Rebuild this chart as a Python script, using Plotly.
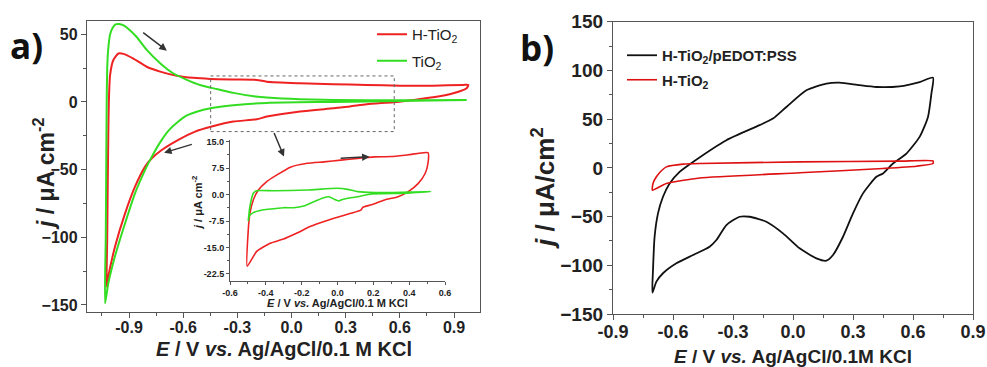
import plotly.graph_objects as go

# ---------------- Panel a (main) ----------------
a_red_E = [-1.024, -1.021, -1.018, -1.015, -1.012, -1.005, -0.987, -0.959, -0.931, -0.876,
           -0.802, -0.728, -0.636, -0.544, -0.451, -0.322, -0.193, -0.137, 0.047, 0.231,
           0.416, 0.601, 0.785, 0.951, 0.979, 0.97, 0.896, 0.785, 0.675, 0.564, 0.416,
           0.324, 0.231, 0.047, -0.137, -0.193, -0.322, -0.442, -0.534, -0.627, -0.719,
           -0.774, -0.811, -0.867, -0.922, -0.978, -1.015, -1.024]
a_red_j = [-136.5, -100, -60, -25, 0, 20, 31, 35.8, 35.5, 32,
           26, 22.4, 19.4, 17.8, 17.0, 16.6, 16.3, 15.0, 13.8, 13.0,
           12.6, 12.0, 12.0, 12.6, 12.6, 10.1, 6.4, 3.4, 1.5, -0.2, -1.7,
           -3.4, -4.7, -7.1, -10.8, -12.8, -14.5, -18.2, -21.9, -28, -35.5,
           -41.6, -47.8, -62.6, -82.3, -107, -129, -136.5]

a_grn_E = [-1.033, -1.029, -1.026, -1.024, -1.021, -1.016, -1.005, -0.99, -0.975, -0.955,
           -0.93, -0.9, -0.858, -0.802, -0.728, -0.654, -0.58, -0.507, -0.414, -0.322,
           -0.2, -0.137, 0.047, 0.416, 0.97, 0.97, 0.6, 0.231, -0.137, -0.322, -0.414,
           -0.507, -0.58, -0.627, -0.68, -0.719, -0.774, -0.811, -0.867, -0.922, -0.978,
           -1.015, -1.033]
a_grn_j = [-148.8, -100, -40, 0, 25, 38, 50, 55, 57.3, 57.6,
           56.5, 53.5, 48, 38.4, 28.6, 21, 16.3, 12.5, 9.5, 6.7,
           4.0, 3.2, 2.0, 1.2, 1.5, 1.5, 0.7, 0.0, -0.7, -2.5, -4.0,
           -6.5, -10, -14.5, -21, -28, -40.4, -50.2, -67.5, -89.6, -114,
           -134, -148.8]

# ---------------- Panel a (inset) ----------------
in_red_E = [-0.504, -0.498, -0.489, -0.47, -0.442, -0.395, -0.338, -0.263, -0.169, -0.075,
            0.019, 0.113, 0.207, 0.301, 0.395, 0.505, 0.505, 0.489, 0.451, 0.395, 0.338,
            0.263, 0.188, 0.141, 0.132, 0.075, 0.0, -0.075, -0.15, -0.226, -0.301, -0.376,
            -0.451, -0.504]
in_red_j = [-20.3, -10.0, -5.3, -1.5, 1.3, 3.7, 5.6, 7.8, 8.9, 9.3,
            9.8, 10.3, 10.7, 10.8, 11.3, 11.9, 8.9, 6.0, 3.2, 0.85, -0.6,
            -1.5, -2.9, -3.6, -4.3, -5.3, -6.4, -7.6, -9.0, -10.9, -12.6, -13.8,
            -16.1, -20.3]

in_grn_E = [-0.498, -0.489, -0.47, -0.451, -0.357, -0.169, 0.0, 0.056, 0.113, 0.207,
            0.3, 0.52, 0.395, 0.188, 0.113, 0.056, 0.019, 0.009, -0.019, -0.047,
            -0.085, -0.132, -0.188, -0.244, -0.301, -0.357, -0.414, -0.47, -0.492, -0.498]
in_grn_j = [-7.4, -3.4, 0.4, 1.1, 1.1, 1.3, 1.8, 1.5, 0.85, 0.6,
            0.6, 0.9, 0.4, 0.2, -0.6, -1.0, -1.5, -1.8, -1.3, -0.6,
            -1.0, -2.0, -3.2, -3.7, -3.7, -4.0, -4.3, -5.1, -6.0, -7.4]

# ---------------- Panel b ----------------
b_blk_E = [-0.703, -0.7, -0.692, -0.675, -0.65, -0.617, -0.567, -0.5, -0.333, -0.167,
           -0.1, -0.033, 0.067, 0.167, 0.233, 0.333, 0.417, 0.533, 0.633, 0.7,
           0.692, 0.675, 0.633, 0.567, 0.5, 0.45, 0.417, 0.35, 0.3, 0.25, 0.2, 0.167,
           0.117, 0.033, -0.05, -0.133, -0.217, -0.267, -0.333, -0.383, -0.417, -0.5,
           -0.583, -0.65, -0.683, -0.703]
b_blk_j = [-128, -104.8, -70.7, -46.7, -29.7, -16, -4.1, 6.1, 28.4, 43.8,
           50.6, 62.5, 79.6, 86.5, 87.5, 84.8, 83.0, 83.7, 88.1, 92.6,
           76.2, 52.3, 31.8, 14.7, 4.5, -5.7, -9.2, -26.2, -46.7, -70.7, -89.5, -95.3,
           -92.9, -82.6, -67.2, -55.3, -50.2, -50.2, -58.7, -74.1, -81, -89.5,
           -98, -108.2, -116.8, -128]

b_red_E = [-0.703, -0.7, -0.683, -0.658, -0.633, -0.55, -0.467, 0.033, 0.533, 0.7,
           0.7, 0.617, 0.45, 0.033, -0.467, -0.633, -0.703]
b_red_j = [-22.9, -16, -9.2, -3.0, 1.0, 3.8, 4.5, 6.1, 6.9, 7.2,
           4.5, 1.7, -0.6, -5.1, -10.4, -16, -22.9]

# tick values
a_xticks = [-0.9, -0.6, -0.3, 0.0, 0.3, 0.6, 0.9]
a_xticklabels = ["-0.9", "-0.6", "-0.3", "0.0", "0.3", "0.6", "0.9"]
a_yticks = [50, 0, -50, -100, -150]
in_xticks = [-0.6, -0.4, -0.2, 0.0, 0.2, 0.4, 0.6]
in_xticklabels = ["-0.6", "-0.4", "-0.2", "0.0", "0.2", "0.4", "0.6"]
in_yticks = [15.0, 7.5, 0.0, -7.5, -15.0, -22.5]
in_yticklabels = ["15.0", "7.5", "0.0", "-7.5", "-15.0", "-22.5"]
b_xticks = [-0.9, -0.6, -0.3, 0.0, 0.3, 0.6, 0.9]
b_xticklabels = ["-0.9", "-0.6", "-0.3", "0.0", "0.3", "0.6", "0.9"]
b_yticks = [150, 100, 50, 0, -50, -100, -150]

# zoom box and arrows (data coordinates of panel a)
zoom_box = [-0.448, -21.9, 0.569, 19.2]
arrows_a = [(-0.83, 52, -0.691, 37.9), (-0.544, -31, -0.706, -37.5), (-0.1, -21.9, -0.042, -40.4)]
arrow_inset = (0.009, 10.3, 0.179, 10.75)

W, H = 987, 367
RED = "#ee2222"
GREEN = "#33dd22"
FONT = "Liberation Sans, Arial, sans-serif"
AX = "#555555"

fig = go.Figure()
fig.add_trace(go.Scatter(x=a_red_E, y=a_red_j, mode="lines", name="H-TiO<sub>2</sub>",
                         line=dict(color=RED, width=2, shape="spline", smoothing=0.6),
                         xaxis="x", yaxis="y", legend="legend", legendgroup="a1"))
fig.add_trace(go.Scatter(x=a_grn_E, y=a_grn_j, mode="lines", name="TiO<sub>2</sub>",
                         line=dict(color=GREEN, width=2, shape="spline", smoothing=0.6),
                         xaxis="x", yaxis="y", legend="legend", legendgroup="a2"))
fig.add_trace(go.Scatter(x=in_red_E, y=in_red_j, mode="lines", showlegend=False,
                         line=dict(color=RED, width=1.6, shape="spline", smoothing=0.5),
                         xaxis="x3", yaxis="y3"))
fig.add_trace(go.Scatter(x=in_grn_E, y=in_grn_j, mode="lines", showlegend=False,
                         line=dict(color=GREEN, width=1.6, shape="spline", smoothing=0.5),
                         xaxis="x3", yaxis="y3"))
fig.add_trace(go.Scatter(x=b_blk_E, y=b_blk_j, mode="lines", name="H-TiO<sub>2</sub>/pEDOT:PSS",
                         line=dict(color="#111111", width=1.8, shape="spline", smoothing=0.6),
                         xaxis="x2", yaxis="y2", legend="legend2", legendgroup="b1"))
fig.add_trace(go.Scatter(x=b_red_E, y=b_red_j, mode="lines", name="H-TiO<sub>2</sub>",
                         line=dict(color="#dd1111", width=1.6, shape="spline", smoothing=0.5),
                         xaxis="x2", yaxis="y2", legend="legend2", legendgroup="b2"))

def px_x(p):
    return p / W

def px_y(p):
    return (H - p) / H

common = dict(showgrid=False, zeroline=False, showline=True, linecolor=AX, linewidth=1.3,
              ticks="outside", ticklen=5, tickcolor=AX, tickwidth=1.2, automargin=False)

fig.update_layout(
    width=W, height=H, margin=dict(l=0, r=0, t=0, b=0, autoexpand=False),
    paper_bgcolor="white", plot_bgcolor="rgba(0,0,0,0)",
    font=dict(family=FONT, color="#222222"),
    xaxis=dict(domain=[px_x(87), px_x(480)], range=[-1.133, 1.044], anchor="y", mirror=True,
               tickvals=a_xticks, ticktext=a_xticklabels, ticklabelstandoff=-4,
               tickfont=dict(size=16, weight="bold", family=FONT),
               minor=dict(dtick=0.15, tick0=0, ticklen=3, tickcolor=AX, ticks="outside"), **common),
    yaxis=dict(domain=[px_y(312), px_y(21)], range=[-155.2, 59.8], anchor="x", mirror=True,
               tickvals=a_yticks, tickfont=dict(size=16, weight="bold", family=FONT),
               minor=dict(dtick=25, tick0=0, ticklen=3, tickcolor=AX, ticks="outside"), **common),
    xaxis3=dict(domain=[px_x(230), px_x(445)], range=[-0.6, 0.6], anchor="y3",
                tickvals=in_xticks, ticktext=in_xticklabels,
                tickfont=dict(size=9, weight="bold", family=FONT),
                minor=dict(dtick=0.1, tick0=0, ticklen=2, tickcolor=AX, ticks="outside"),
                **{**common, "ticklen": 3, "linewidth": 1.1}),
    yaxis3=dict(domain=[px_y(281), px_y(140)], range=[-24.5, 15.5], anchor="x3",
                tickvals=in_yticks, ticktext=in_yticklabels,
                tickfont=dict(size=9, weight="bold", family=FONT),
                minor=dict(dtick=3.75, tick0=0, ticklen=2, tickcolor=AX, ticks="outside"),
                **{**common, "ticklen": 3, "linewidth": 1.1}),
    xaxis2=dict(domain=[px_x(613), px_x(973)], range=[-0.9, 0.9], anchor="y2", mirror=True,
                tickvals=b_xticks, ticktext=b_xticklabels, ticklabelstandoff=-4,
                tickfont=dict(size=18, weight="bold", family=FONT),
                minor=dict(dtick=0.15, tick0=0, ticklen=3, tickcolor=AX, ticks="outside"), **common),
    yaxis2=dict(domain=[px_y(314), px_y(21.7)], range=[-150, 150], anchor="x2", mirror=True,
                tickvals=b_yticks, tickfont=dict(size=19, weight="bold", family=FONT),
                minor=dict(dtick=25, tick0=0, ticklen=3, tickcolor=AX, ticks="outside"), **common),
    legend=dict(x=px_x(372), y=px_y(18), xanchor="left", yanchor="top", bgcolor="rgba(0,0,0,0)",
                font=dict(size=15, family=FONT, color="#222"), tracegroupgap=4),
    legend2=dict(x=px_x(622), y=px_y(39), xanchor="left", yanchor="top", bgcolor="rgba(0,0,0,0)",
                 font=dict(size=15, family=FONT, color="#222", weight="bold"), tracegroupgap=2),
)

# zoom rectangle
fig.add_shape(type="rect", xref="x", yref="y", x0=zoom_box[0], y0=zoom_box[1], x1=zoom_box[2], y1=zoom_box[3],
              line=dict(color="#666666", width=1, dash="dot"))

for (tx, ty, hx, hy) in arrows_a:
    fig.add_annotation(x=hx, y=hy, ax=tx, ay=ty, xref="x", yref="y", axref="x", ayref="y",
                       showarrow=True, arrowhead=2, arrowsize=1, arrowwidth=1.5, arrowcolor="#333333", text="")
fig.add_annotation(x=arrow_inset[2], y=arrow_inset[3], ax=arrow_inset[0], ay=arrow_inset[1],
                   xref="x3", yref="y3", axref="x3", ayref="y3",
                   showarrow=True, arrowhead=2, arrowsize=1, arrowwidth=1.5, arrowcolor="#333333", text="")

def label(text, x, y, size, angle=0, weight="bold", family=FONT, color="#222222"):
    fig.add_annotation(text=text, x=px_x(x), y=px_y(y), xref="paper", yref="paper",
                       showarrow=False, textangle=angle, xanchor="center", yanchor="middle",
                       font=dict(size=size, family=family, color=color, weight=weight))

label("<i>j</i> / μA cm<sup>-2</sup>", 44, 174, 23, angle=-90)
label("<i>E</i> / V <i>vs.</i> Ag/AgCl/0.1 M KCl", 284, 349, 20)
label("<i>j</i> / μA cm<sup>-2</sup>", 197, 203, 11, angle=-90)
label("<i>E</i> / V <i>vs.</i> Ag/AgCl/0.1 M KCl", 337, 303, 11)
label("<i>j</i> / μA/cm<sup>2</sup>", 543, 188, 26, angle=-90)
label("<i>E</i> / V <i>vs.</i> Ag/AgCl/0.1M KCl", 793, 356, 19)
label("a)", 26, 46, 35, family="Open Sans, sans-serif", color="#111111")
label("b)", 537, 47, 35, family="Open Sans, sans-serif", color="#111111")

fig.write_html("out.html", config={"displayModeBar": False},
               post_script="document.body.style.margin='0px';document.body.style.overflow='hidden';")
